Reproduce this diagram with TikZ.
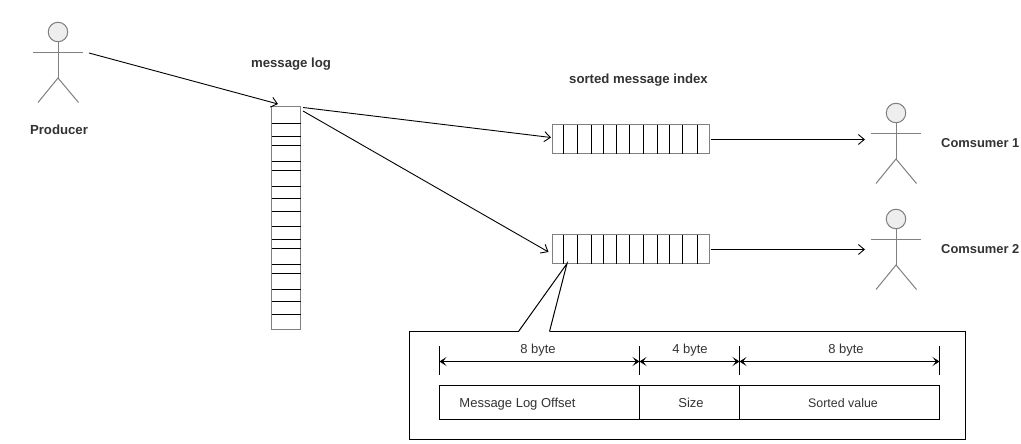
\documentclass[tikz,border=0pt]{standalone}
\usepackage{fontspec}
\setmainfont{Liberation Sans}
\usetikzlibrary{arrows.meta}
\definecolor{edgegray}{HTML}{808080}
\definecolor{headfill}{HTML}{EEEEEE}
\definecolor{labeltext}{HTML}{333333}
\tikzset{
  x=1pt,y=-1pt,
  boxgray/.style={draw=edgegray,line width=1pt,inner sep=0,outer sep=0,fill=white},
  slot/.style={draw=black,line width=1pt},
  actorline/.style={draw=edgegray,line width=1pt},
  actorhead/.style={circle,draw=edgegray,fill=headfill,line width=1pt,minimum size=19.5pt,inner sep=0,outer sep=0},
  flow/.style={draw=black,line width=.9pt,-{Straight Barb[length=6pt,width=10pt,line width=.9pt]}},
  plainline/.style={draw=black,line width=1pt},
  dimline/.style={draw=black,line width=1pt,{Stealth[length=7pt,width=9pt,inset=3.5pt]}-{Stealth[length=7pt,width=9pt,inset=3.5pt]}},
  titlelabel/.style={font=\fontsize{13.2pt}{15pt}\selectfont\bfseries,text=labeltext,inner sep=0,anchor=base},
  sidelabel/.style={font=\fontsize{12.9pt}{15pt}\selectfont\bfseries,text=labeltext,inner sep=0,anchor=base west},
  celllabel/.style={font=\fontsize{13pt}{15pt}\selectfont,text=labeltext,inner sep=0,anchor=base},
  cellbox/.style={draw=black,line width=1pt,inner sep=0,outer sep=0,minimum height=34pt},
}
\newcommand{\stickman}[3]{% name, x, head y
  \node[actorhead] (#1) at (#2,#3) {};
  \coordinate (#1neck) at (#2,#3+20.3);
  \coordinate (#1hip) at (#2,#3+46);
  \draw[actorline] (#1.south) -- (#1hip);
  \draw[actorline] (#2-25,#3+20.3) -- (#2+25,#3+20.3);
  \draw[actorline] (#2-20,#3+70.5) -- (#1hip) -- (#2+20.5,#3+70.5);
}
\begin{document}
\begin{tikzpicture}
\fill[white] (0,0) rectangle (1021,444);
\useasboundingbox (0,0) rectangle (1021,444);

% actors
\stickman{prod}{58}{32}
\stickman{cone}{896}{113}
\stickman{ctwo}{896}{219}

% texts
\node[titlelabel] (tprod) at (59,135) {Producer};
\node[titlelabel] (tlog) at (291,68) {message log};
\node[titlelabel] (tidx) at (638.5,83.5) {sorted message index};
\node[sidelabel] (tcone) at (941,147.5) {Comsumer 1};
\node[sidelabel] (tctwo) at (941,253.5) {Comsumer 2};

% message log
\node[boxgray,minimum width=29pt,minimum height=223pt] (log) at (286,218) {};
\foreach \yy in {123.5,136.5,145.5,161.5,170.5,186.5,198.5,211.5,226.5,239.5,248.5,264.5,273.5,289.5,301.5,314.5}
  \draw[slot] (log.west |- 0,\yy) -- (log.east |- 0,\yy);

% index rows
\node[boxgray,minimum width=157pt,minimum height=29pt] (idxa) at (631,139) {};
\node[boxgray,minimum width=157pt,minimum height=29pt] (idxb) at (631,249) {};
\foreach \xx in {563.5,577.5,591.5,603.5,616.5,629.5,643.5,657.5,669.5,682.5,697.5} {
  \draw[slot] (\xx,0 |- idxa.north) -- (\xx,0 |- idxa.south);
  \draw[slot] (\xx,0 |- idxb.north) -- (\xx,0 |- idxb.south);
}

% connector ends
\coordinate (prodout) at (89,53);
\coordinate (login) at (278,104);
\coordinate (logouta) at (303,107.5);
\coordinate (logoutb) at (303,111);
\coordinate (idxina) at (551,137.5);
\coordinate (idxinb) at (548.5,252);
\coordinate (idxouta) at (710.5,139.5);
\coordinate (idxoutb) at (710.5,249.5);
\coordinate (conein) at (865,139.5);
\coordinate (ctwoin) at (865,249.5);

\draw[flow] (prodout) -- (login);
\draw[flow] (logouta) -- (idxina);
\draw[flow] (logoutb) -- (idxinb);
\draw[flow] (idxouta) -- (conein);
\draw[flow] (idxoutb) -- (ctwoin);

% call-out
\coordinate (calltip) at (567,263.5);
\coordinate (gapl) at (518.5,331.5);
\coordinate (gapr) at (549.5,331.5);
\draw[plainline,line join=miter] (gapl) -- (409.5,331.5) -- (409.5,439.5) -- (965.5,439.5) -- (965.5,331.5) -- (gapr);
\draw[plainline] (gapl) -- (calltip) -- (gapr);

% table
\node[cellbox,minimum width=200pt] (cella) at (539.5,402.5) {};
\node[cellbox,minimum width=100pt] (cellb) at (689.5,402.5) {};
\node[cellbox,minimum width=200pt] (cellc) at (839.5,402.5) {};
\node[celllabel] (la) at (517.5,407) {Message Log Offset};
\node[celllabel] (lb) at (691,407) {Size};
\node[celllabel,font=\fontsize{12.4pt}{15pt}\selectfont] (lc) at (843,407) {Sorted value};

% dimensions
\foreach \nm/\xx in {ta/439.5,tb/639.5,tc/739.5,td/939.5} {
  \coordinate (\nm) at (\xx,361.5);
  \draw[plainline] (\xx,346) -- (\xx,375);
}
\draw[dimline] (ta) -- (tb);
\draw[dimline] (tb) -- (tc);
\draw[dimline] (tc) -- (td);
\node[celllabel] (da) at (538,353.5) {8 byte};
\node[celllabel] (db) at (690,353.5) {4 byte};
\node[celllabel] (dc) at (846,353.5) {8 byte};
\end{tikzpicture}
\end{document}
